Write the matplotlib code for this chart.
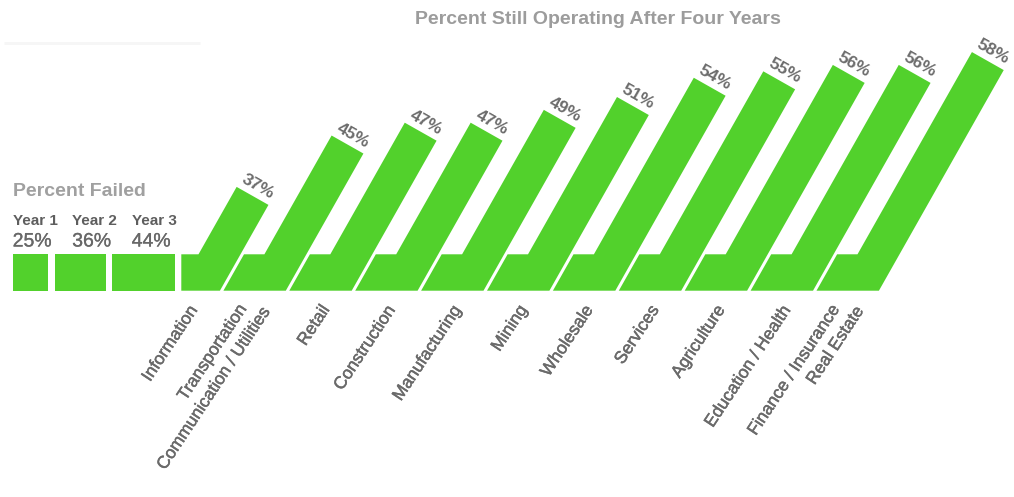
import numpy as np
import matplotlib
matplotlib.use("Agg")
import matplotlib.pyplot as plt
import matplotlib.patheffects as pe
from matplotlib.patches import Polygon, Rectangle
from matplotlib.transforms import Affine2D

plt.rcParams['font.family'] = ['Liberation Sans', 'DejaVu Sans']

# ---- data -------------------------------------------------------------
years = ["Year 1", "Year 2", "Year 3"]
failed = [25, 36, 44]

industries = [
    "Information",
    "Transportation\nCommunication / Utilities",
    "Retail",
    "Construction",
    "Manufacturing",
    "Mining",
    "Wholesale",
    "Services",
    "Agriculture",
    "Education / Health",
    "Finance / Insurance\nReal Estate",
]
operating = [37, 45, 47, 47, 49, 51, 54, 55, 56, 56, 58]

title = "Percent Still Operating After Four Years"
failed_title = "Percent Failed"

# ---- style ------------------------------------------------------------
GREEN = "#52d12c"
W, H = 1014, 497

fig = plt.figure(figsize=(W / 100, H / 100), dpi=100)
ax = fig.add_axes([0, 0, 1, 1])

# x axis in pixels, y axis in percentage points
BASE = 26.5          # value level at the top of the base strip
PPY = 6.42           # pixels per percentage point
BASE_TOP_PX = 254.3
ax.set_xlim(0, W)
ax.set_ylim(BASE - (H - BASE_TOP_PX) / PPY, BASE + BASE_TOP_PX / PPY)
ax.axis("off")

# pixel transform with origin at top-left, used for free-standing text
px = Affine2D().scale(1, -1).translate(0, H)

STRIP = 36.4 / PPY
base_top = BASE
base_bot = BASE - STRIP
theta = np.radians(60.5)
cot = 1.0 / np.tan(theta)


def run(dy):
    """Horizontal pixel shift along a slanted edge for a vertical change dy (in %)."""
    return dy * PPY * cot


heavy = [pe.withStroke(linewidth=0.35, foreground="#6a6a6a")]

# ---- failed-by-year blocks -------------------------------------------
PX_PER_PCT = 1.42
GAP = 6.5
x = 12.7
for v in failed:
    w = v * PX_PER_PCT
    ax.add_patch(Rectangle((x, base_bot), w, STRIP, facecolor=GREEN, lw=0))
    x += w + GAP
first_left = x

ax.text(12.7, 196, failed_title, transform=px, fontsize=14, fontweight="bold",
        color="#a0a0a0", va="baseline", ha="left")
for k, (lab, v) in enumerate(zip(years, failed)):
    tx = 12.7 + k * 59.5
    ax.text(tx, 225, lab, transform=px, fontsize=11, fontweight="bold",
            color="#5e5e5e", va="baseline", ha="left")
    ax.text(tx, 246.5, f"{v}%", transform=px, fontsize=14,
            color="#686868", va="baseline", ha="left",
            path_effects=[pe.withStroke(linewidth=0.2, foreground="#686868")])

# ---- slanted industry bars -------------------------------------------
X0 = 198.5
SLOT = 65.9
BAR_W = 42.0
SEP = 3.5
wp = BAR_W * np.sin(theta)   # bar width measured across the slant

LAB_ANGLE = 56.5
la = np.radians(LAB_ANGLE)
u = np.array([np.cos(la), -np.sin(la)])    # text direction, pixel coords (y down)
nrm = np.array([np.sin(la), np.cos(la)])   # line-to-line direction
LINE_STEP = 21.0
LINE_SHIFT = 11.0

for i, (lab, v) in enumerate(zip(industries, operating)):
    s = X0 + i * SLOT
    h = v - base_top
    tl = (s + run(h), v)
    tr = (tl[0] + wp * np.sin(theta), v - wp * np.cos(theta) / PPY)
    br = (tr[0] - run(tr[1] - base_bot), base_bot)
    if i == 0:
        lt = (first_left, base_top)
        lb = (first_left, base_bot)
    else:
        prev = X0 + (i - 1) * SLOT + BAR_W + SEP
        lt = (prev, base_top)
        lb = (prev - run(STRIP), base_bot)
    ax.add_patch(Polygon([lb, lt, (s, base_top), tl, tr, br],
                         closed=True, facecolor=GREEN, lw=0))

    # value label sitting on the slanted top edge
    mx = (tl[0] + tr[0]) / 2
    my = (tl[1] + tr[1]) / 2
    d = 10.5
    ax.text(mx + d * np.cos(theta), my + d * np.sin(theta) / PPY, f"{v}%",
            rotation=-(90 - np.degrees(theta)), rotation_mode="anchor",
            ha="center", va="center", fontsize=12.5, fontweight="bold",
            color="#6c6c6c")

    # category label under the strip, one text per line
    lines = lab.split("\n")
    nl = len(lines)
    anchor = np.array([s - (4.0 if nl == 1 else 9.0), 307.0])
    for k, line in enumerate(lines):
        f = k - (nl - 1) / 2
        p = anchor + f * (LINE_STEP * nrm + LINE_SHIFT * u)
        ax.text(p[0], p[1], line, transform=px, rotation=LAB_ANGLE,
                rotation_mode="anchor", ha="right", va="center",
                fontsize=12.5, color="#6a6a6a", path_effects=heavy)

# ---- titles -----------------------------------------------------------
ax.text(597.5, 23.5, title, transform=px, fontsize=14, fontweight="bold",
        color="#9c9c9c", ha="center", va="baseline")
ax.plot([4, 200], [43, 43], transform=px, color="#f6f6f6", lw=2,
        solid_capstyle="butt")

fig.savefig("out.png", dpi=100, facecolor="white")
